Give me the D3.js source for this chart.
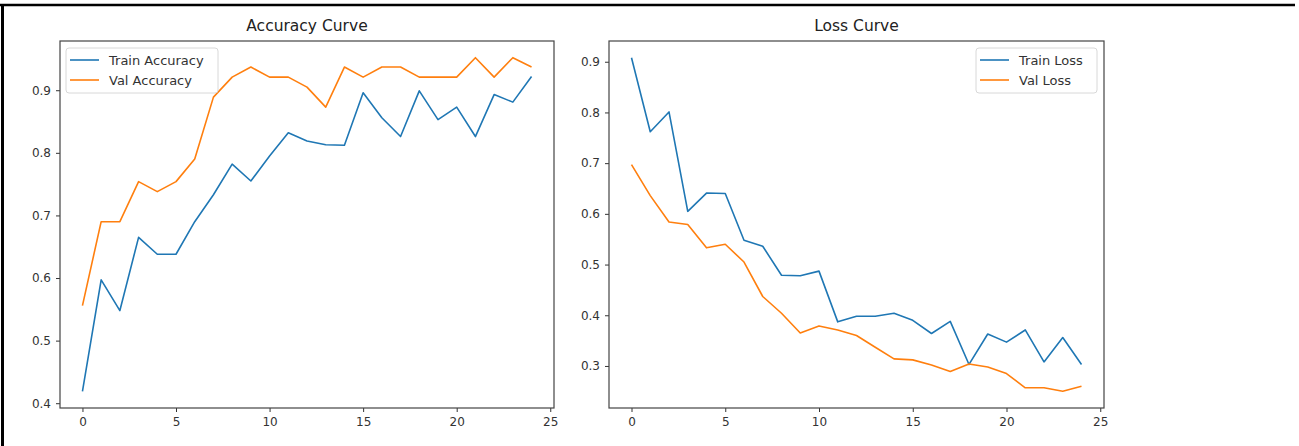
<!DOCTYPE html>
<html>
<head>
<meta charset="utf-8">
<script src="https://cdn.jsdelivr.net/npm/d3@7"></script>
<style>
  html, body { margin: 0; padding: 0; background: #fff; }
  svg { display: block; font-family: 'DejaVu Sans', sans-serif; }
</style>
</head>
<body>
<div id="chart"></div>
<script>
// Data
const epochs = d3.range(0, 25)
const trainAcc = [0.419, 0.597, 0.548, 0.665, 0.638, 0.638, 0.690, 0.733, 0.782, 0.755, 0.795, 0.832, 0.819, 0.813, 0.812, 0.896, 0.856, 0.826, 0.899, 0.853, 0.873, 0.826, 0.893, 0.881, 0.922]
const valAcc = [0.556, 0.690, 0.690, 0.754, 0.738, 0.754, 0.790, 0.889, 0.921, 0.937, 0.921, 0.921, 0.905, 0.873, 0.937, 0.921, 0.937, 0.937, 0.921, 0.921, 0.921, 0.952, 0.921, 0.952, 0.937]
const trainLoss = [0.908, 0.762, 0.801, 0.605, 0.641, 0.640, 0.548, 0.536, 0.479, 0.478, 0.487, 0.387, 0.398, 0.398, 0.404, 0.390, 0.364, 0.388, 0.303, 0.363, 0.347, 0.371, 0.308, 0.356, 0.303]
const valLoss = [0.697, 0.636, 0.584, 0.579, 0.533, 0.540, 0.505, 0.437, 0.404, 0.365, 0.379, 0.371, 0.360, 0.337, 0.314, 0.312, 0.302, 0.289, 0.304, 0.298, 0.285, 0.257, 0.257, 0.250, 0.260]
const xTicks = [0, 5, 10, 15, 20, 25]
const accTicks = [0.4, 0.5, 0.6, 0.7, 0.8, 0.9]
const lossTicks = [0.3, 0.4, 0.5, 0.6, 0.7, 0.8, 0.9]

const width = 1299
const height = 446
const blue = '#1f77b4'
const orange = '#ff7f0e'

const svg = d3.select('#chart')
  .append('svg')
  .attr('width', width)
  .attr('height', height)

svg.append('rect')
  .attr('width', width)
  .attr('height', height)
  .attr('fill', '#fff')

// Black frame lines at the top and left edge of the picture
svg.append('line')
  .attr('x1', 0).attr('x2', 1295)
  .attr('y1', 5).attr('y2', 5)
  .attr('stroke', '#000').attr('stroke-width', 2.5)
svg.append('line')
  .attr('x1', 2.5).attr('x2', 2.5)
  .attr('y1', 4).attr('y2', height)
  .attr('stroke', '#000').attr('stroke-width', 3)

// pad an extent by 5% on both sides, like matplotlib does
const padded = (values) => {
  const [lo, hi] = d3.extent(values)
  const r = hi - lo
  return [lo - r * 0.05, hi + r * 0.05]
}

function drawPanel(opts) {
  const { left, right, top, bottom, title, series, yTicks, legendX, legendAnchor } = opts

  const x = d3.scaleLinear()
    .domain(padded(epochs))
    .range([left, right])

  const y = d3.scaleLinear()
    .domain(padded(series.flatMap(s => s.values)))
    .range([bottom, top])

  const g = svg.append('g')

  // Lines
  const line = d3.line()
    .x((d, i) => x(epochs[i]))
    .y(d => y(d))

  series.forEach(s => {
    g.append('path')
      .datum(s.values)
      .attr('fill', 'none')
      .attr('stroke', s.color)
      .attr('stroke-width', 1.6)
      .attr('stroke-linejoin', 'round')
      .attr('d', line)
  })

  // Axes
  g.append('g')
    .attr('transform', `translate(0,${bottom})`)
    .call(d3.axisBottom(x).tickValues(xTicks).tickSize(4).tickPadding(5).tickFormat(d3.format('d')))
    .call(a => a.select('.domain').remove())
    .call(a => a.selectAll('.tick line').attr('stroke', '#333'))
    .call(a => a.selectAll('.tick text').attr('fill', '#333').attr('font-size', '12px').attr('font-family', 'DejaVu Sans'))

  g.append('g')
    .attr('transform', `translate(${left},0)`)
    .call(d3.axisLeft(y).tickValues(yTicks).tickSize(4).tickPadding(5).tickFormat(d3.format('.1f')))
    .call(a => a.select('.domain').remove())
    .call(a => a.selectAll('.tick line').attr('stroke', '#333'))
    .call(a => a.selectAll('.tick text').attr('fill', '#333').attr('font-size', '12px').attr('font-family', 'DejaVu Sans'))

  // Frame
  g.append('rect')
    .attr('x', left)
    .attr('y', top)
    .attr('width', right - left)
    .attr('height', bottom - top)
    .attr('fill', 'none')
    .attr('stroke', '#444')
    .attr('stroke-width', 1.2)

  // Title
  g.append('text')
    .attr('x', (left + right) / 2)
    .attr('y', top - 10)
    .attr('text-anchor', 'middle')
    .attr('font-size', '15.5px')
    .attr('fill', '#222')
    .text(title)

  // Legend
  const boxW = opts.legendWidth
  const boxX = legendAnchor === 'left' ? legendX : legendX - boxW
  const leg = g.append('g')
  leg.append('rect')
    .attr('x', boxX)
    .attr('y', top + 7)
    .attr('width', boxW)
    .attr('height', 45)
    .attr('rx', 3)
    .attr('fill', '#fff')
    .attr('fill-opacity', 0.8)
    .attr('stroke', '#d8d8d8')

  series.forEach((s, i) => {
    const yy = top + 19 + i * 20
    leg.append('line')
      .attr('x1', boxX + 4)
      .attr('x2', boxX + 33)
      .attr('y1', yy)
      .attr('y2', yy)
      .attr('stroke', s.color)
      .attr('stroke-width', 1.6)
    leg.append('text')
      .attr('x', boxX + 43)
      .attr('y', yy + 4.5)
      .attr('font-size', '13px')
      .attr('fill', '#333')
      .text(s.name)
  })
}

drawPanel({
  left: 60, right: 554, top: 41, bottom: 408,
  title: 'Accuracy Curve',
  series: [
    { name: 'Train Accuracy', values: trainAcc, color: blue },
    { name: 'Val Accuracy', values: valAcc, color: orange }
  ],
  yTicks: accTicks,
  legendX: 66, legendAnchor: 'left', legendWidth: 152
})

drawPanel({
  left: 609, right: 1104, top: 41, bottom: 408,
  title: 'Loss Curve',
  series: [
    { name: 'Train Loss', values: trainLoss, color: blue },
    { name: 'Val Loss', values: valLoss, color: orange }
  ],
  yTicks: lossTicks,
  legendX: 1097, legendAnchor: 'right', legendWidth: 121
})
</script>
</body>
</html>
